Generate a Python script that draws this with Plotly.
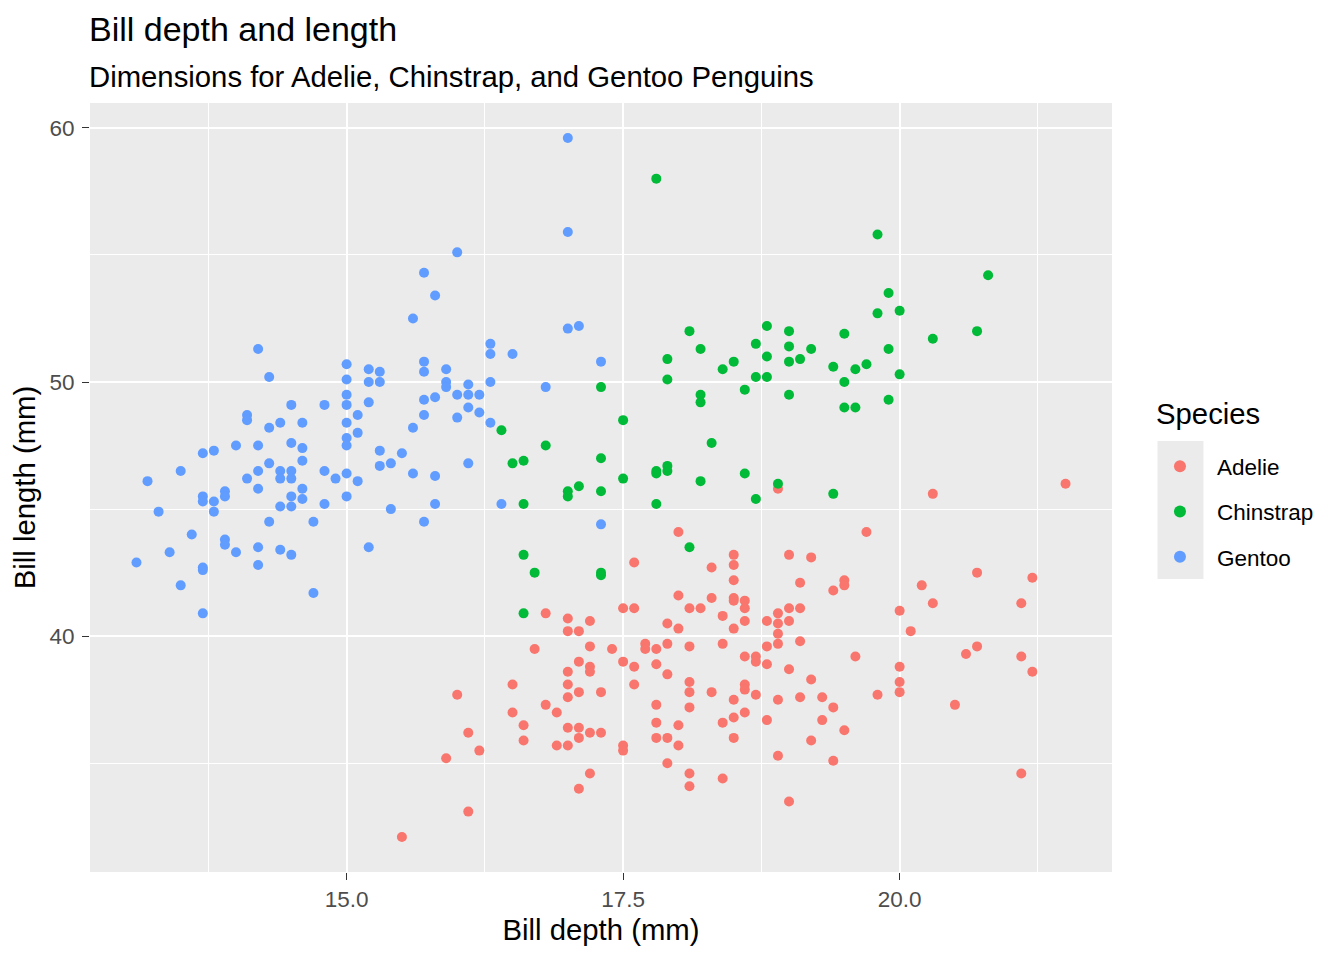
import plotly.graph_objects as go

# Palmer penguins: bill depth (x) vs bill length (y)
species = ["Adelie", "Chinstrap", "Gentoo"]
colors = ["#F8766D", "#00BA38", "#619CFF"]

adelie_depth = [
    18.0, 17.6, 18.5, 18.5, 18.3, 18.5, 18.0, 18.3, 18.5, 18.5, 18.6, 18.6,
    17.5, 17.6, 18.1, 18.2, 18.4, 18.6, 18.8, 16.8, 17.0, 17.2, 17.0, 17.1,
    17.9, 18.0, 18.5, 16.7, 17.2, 17.4, 17.7, 17.7, 17.8, 17.9, 18.1, 18.4,
    18.6, 18.7, 18.8,
    18.9, 20.3, 21.5, 19.7, 19.0, 19.2, 19.1, 19.4, 19.5, 19.5, 20.2, 20.7,
    21.2, 20.3, 21.1, 20.0, 19.0, 19.1, 18.9, 18.9, 19.0, 18.9, 18.9, 19.1,
    20.1, 19.6, 20.6, 20.7, 21.1,
    17.1, 17.2, 17.2, 17.5, 17.6, 17.8, 17.9, 18.7, 18.8, 17.0, 17.0, 17.0,
    17.1, 17.3, 17.6, 18.1, 18.1, 18.1, 18.3, 18.6, 18.6, 18.7, 18.5, 18.6,
    18.5, 18.4, 18.8, 18.5, 17.8, 17.8, 18.0, 17.8, 17.9, 18.0, 17.5, 17.5,
    17.9, 18.1, 18.1, 18.4, 17.2, 17.1, 16.5, 16.5, 16.0, 16.1, 16.2, 15.9,
    16.1, 16.6, 16.6, 16.8, 16.9, 16.9, 17.0, 17.0, 17.1, 17.1, 17.2, 17.3,
    19.0, 19.2, 18.9, 19.1, 19.3, 19.4, 19.3, 19.5, 19.2, 18.9, 19.4, 19.0,
    19.8, 20.0, 20.0, 20.0, 20.5, 21.2, 21.1,
    15.5,
]
adelie_length = [
    44.1, 42.9, 43.2, 42.8, 42.7, 42.2, 41.6, 41.5, 41.5, 41.4, 41.4, 41.1,
    41.1, 41.1, 41.1, 41.1, 40.8, 40.6, 40.6, 40.9, 40.7, 40.6, 40.2, 40.2,
    40.5, 40.3, 40.3, 39.5, 39.6, 39.5, 39.7, 39.5, 39.5, 39.7, 39.6, 39.7,
    39.2, 39.2, 39.6,
    45.8, 45.6, 46.0, 44.1, 43.2, 43.1, 42.1, 41.8, 42.2, 42.0, 42.0, 42.5,
    42.3, 41.3, 41.3, 41.0, 41.1, 41.1, 40.9, 40.5, 40.6, 40.1, 39.7, 39.8,
    40.2, 39.2, 39.3, 39.6, 39.2,
    39.0, 38.8, 38.6, 39.0, 38.8, 38.9, 38.5, 39.0, 38.9, 38.6, 38.1, 37.6,
    37.8, 37.8, 38.1, 38.2, 37.8, 37.2, 37.8, 38.1, 37.9, 37.7, 37.5, 37.0,
    36.8, 36.6, 36.7, 36.0, 37.3, 36.6, 36.5, 36.0, 36.0, 35.7, 35.7, 35.5,
    35.0, 34.6, 34.1, 34.4, 34.6, 34.0, 38.1, 37.0, 37.7, 36.2, 35.5, 35.2,
    33.1, 36.5, 35.9, 37.3, 37.0, 35.7, 35.7, 36.4, 36.4, 36.0, 36.2, 36.2,
    38.7, 38.3, 37.5, 37.6, 37.6, 37.2, 36.7, 36.3, 35.9, 35.3, 35.1, 33.5,
    37.7, 38.8, 38.2, 37.8, 37.3, 38.6, 34.6,
    32.1,
]

chinstrap_depth = [
    17.8, 19.8, 20.8,
    16.4, 17.3, 17.5, 16.8, 16.5, 16.6, 17.3, 17.8, 17.8, 17.9, 17.9, 18.1,
    18.2, 17.9, 17.9, 18.4, 18.5, 18.7, 18.8, 18.8, 18.7, 18.8, 18.6, 18.2,
    18.2, 18.3, 18.6,
    19.9, 19.8, 20.0, 19.0, 19.0, 19.0, 19.1, 19.2, 19.5, 19.9, 20.3, 20.7,
    19.4, 19.6, 19.7, 19.5, 20.0, 19.0, 19.5, 19.6, 19.9,
    17.5, 18.2, 17.1, 17.0, 17.0, 17.3, 18.7, 16.6, 17.8, 18.1, 16.6, 16.7,
    17.3, 17.3, 16.6,
    18.9, 19.4,
]
chinstrap_length = [
    58.0, 55.8, 54.2,
    48.1, 49.8, 48.5, 47.5, 46.8, 46.9, 47.0, 46.5, 46.4, 46.7, 46.5, 52.0,
    51.3, 50.9, 50.1, 50.5, 50.8, 51.5, 52.2, 51.0, 50.2, 50.2, 49.7, 49.5,
    49.2, 47.6, 46.4,
    53.5, 52.7, 52.8, 52.0, 51.4, 50.8, 50.9, 51.3, 51.9, 51.3, 51.7, 52.0,
    50.6, 50.5, 50.7, 50.0, 50.3, 49.5, 49.0, 49.0, 49.3,
    46.2, 46.1, 45.9, 45.7, 45.5, 45.7, 45.4, 45.2, 45.2, 43.5, 43.2, 42.5,
    42.5, 42.4, 40.9,
    46.0, 45.6,
]

gentoo_depth = [
    17.0, 17.0, 16.0, 15.7,
    15.8, 15.6, 14.2, 14.3, 15.0, 15.0, 15.0, 15.0, 15.0, 15.0, 15.0, 15.0,
    15.2, 15.3, 15.2, 15.3, 15.7, 15.7, 15.9, 15.9, 15.9, 15.2, 15.1, 15.1,
    15.7, 15.8, 15.7, 15.6, 15.3, 15.5, 15.3, 15.4, 15.6, 15.8, 14.8, 14.8,
    14.5, 14.4, 14.3, 14.6, 14.1, 14.1, 14.5, 14.6, 14.6, 14.2, 14.0, 13.8,
    13.7, 13.5, 14.2, 14.3, 14.4, 14.5,
    16.3, 16.3, 16.5, 17.0, 17.1, 17.3, 16.3, 16.8, 16.0, 16.1, 16.1, 16.2,
    16.1, 16.2, 16.0, 16.3, 16.1,
    13.2, 14.1, 14.4, 14.5, 14.9, 15.1, 14.2, 14.6, 13.7, 13.7, 13.8, 13.8,
    13.9, 13.9, 14.5, 14.6, 14.4, 14.5, 14.8, 15.0, 13.3, 15.4, 15.8, 15.7,
    14.3, 14.7, 13.6, 13.9, 13.9, 14.0, 14.2, 14.4, 14.5, 15.2, 13.4, 13.1,
    13.7, 13.7, 14.2, 13.5, 14.7, 13.7,
    16.4, 17.3,
]
gentoo_length = [
    59.6, 55.9, 55.1, 54.3,
    53.4, 52.5, 51.3, 50.2, 50.7, 50.1, 49.5, 49.1, 48.4, 47.8, 47.5, 46.4,
    50.5, 50.4, 50.0, 50.0, 50.8, 50.4, 50.5, 50.0, 49.8, 49.2, 48.7, 48.0,
    49.3, 49.4, 48.7, 48.2, 47.3, 47.2, 46.7, 46.8, 46.4, 46.3, 46.5, 49.1,
    49.1, 48.4, 48.2, 48.4, 48.7, 48.5, 47.6, 47.4, 46.9, 47.5, 47.5, 47.3,
    47.2, 46.5, 46.5, 46.8, 46.5, 46.5,
    51.5, 51.1, 51.1, 52.1, 52.2, 50.8, 50.0, 49.8, 49.5, 49.9, 49.5, 49.5,
    49.0, 48.8, 48.6, 48.4, 46.8,
    46.1, 46.2, 46.2, 46.2, 46.2, 46.1, 45.8, 45.8, 45.5, 45.3, 45.3, 44.9,
    45.7, 45.5, 45.5, 45.4, 45.1, 45.1, 45.2, 45.5, 44.9, 45.0, 45.2, 44.5,
    44.5, 44.5, 44.0, 43.8, 43.6, 43.3, 43.5, 43.4, 43.2, 43.5, 43.3, 42.9,
    42.7, 42.6, 42.8, 42.0, 41.7, 40.9,
    45.2, 44.4,
]

depths = [adelie_depth, chinstrap_depth, gentoo_depth]
lengths = [adelie_length, chinstrap_length, gentoo_length]

FONT = "Liberation Sans, Arial, sans-serif"

fig = go.Figure()
for name, col, xs, ys in zip(species, colors, depths, lengths):
    fig.add_trace(go.Scatter(
        x=xs, y=ys, mode="markers", name=name, legendgroup=name,
        marker=dict(color=col, size=10, line=dict(width=0)),
        hovertemplate="Bill depth: %{x} mm<br>Bill length: %{y} mm<extra>" + name + "</extra>",
    ))


# ggplot-style 5% expansion of the data range
def expanded(vals, mult=0.05):
    lo, hi = min(vals), max(vals)
    pad = (hi - lo) * mult
    return [lo - pad, hi + pad]


all_x = adelie_depth + chinstrap_depth + gentoo_depth
all_y = adelie_length + chinstrap_length + gentoo_length

axis_common = dict(
    showgrid=True, gridcolor="white", gridwidth=2.2,
    zeroline=False, showline=False,
    ticks="outside", ticklen=7, tickwidth=1.3, tickcolor="#333333",
    tickfont=dict(family=FONT, size=22.5, color="#4D4D4D"),
)

# the page adds an 8px body margin, so the figure is 16px smaller than the window
fig.update_layout(
    width=1336, height=952,
    paper_bgcolor="white", plot_bgcolor="#EBEBEB",
    font=dict(family=FONT, color="black"),
    margin=dict(l=82, r=232, t=95, b=88, autoexpand=False),
    xaxis=dict(
        range=expanded(all_x), tick0=0, dtick=2.5, tickformat=".1f",
        minor=dict(dtick=1.25, showgrid=True, gridcolor="white", gridwidth=1.1, ticks=""),
        title=dict(text="Bill depth (mm)", font=dict(size=29.3, color="black"), standoff=8),
        **axis_common,
    ),
    yaxis=dict(
        range=expanded(all_y), tick0=0, dtick=10, ticklabelstandoff=3,
        minor=dict(dtick=5, showgrid=True, gridcolor="white", gridwidth=1.1, ticks=""),
        title=dict(text="Bill length (mm)", font=dict(size=29.3, color="black"), standoff=5),
        **axis_common,
    ),
    legend=dict(
        font=dict(size=22.5, color="black"),
        x=1.0303, xanchor="left", y=0.555, yanchor="top",
        bgcolor="rgba(0,0,0,0)", tracegroupgap=13, itemwidth=64,
        itemsizing="constant",
    ),
    showlegend=True,
    annotations=[
        dict(text="Bill depth and length", xref="paper", yref="paper",
             x=-0.003, y=1.096, xanchor="left", yanchor="middle", showarrow=False,
             font=dict(size=34, color="black")),
        dict(text="Dimensions for Adelie, Chinstrap, and Gentoo Penguins",
             xref="paper", yref="paper", x=-0.003, y=1.0351, xanchor="left",
             yanchor="middle", showarrow=False, font=dict(size=29.3, color="black")),
        dict(text="Species", xref="paper", yref="paper", x=1.041, y=0.5956,
             xanchor="left", yanchor="middle", showarrow=False,
             font=dict(size=29.3, color="black")),
    ],
    shapes=[
        # grey background behind the legend keys, as in ggplot
        dict(type="rect", xref="paper", yref="paper", x0=1.0445, x1=1.0895,
             y0=0.381, y1=0.5605, fillcolor="#EBEBEB", line=dict(width=0),
             layer="below"),
    ],
)

fig.write_html("out.html")
